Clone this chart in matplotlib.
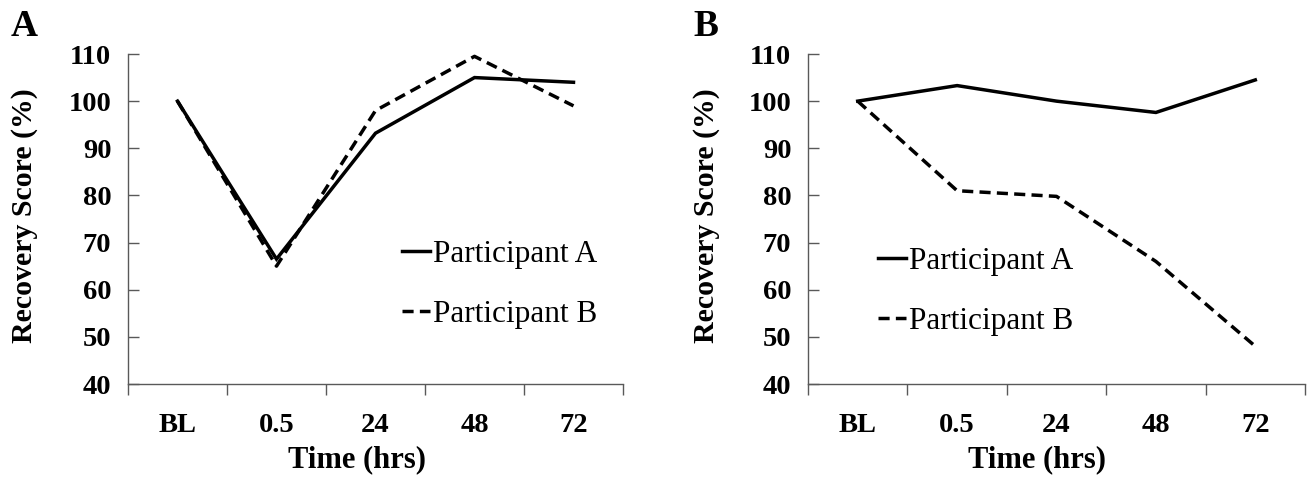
import matplotlib.pyplot as plt

times = ['BL', '0.5', '24', '48', '72']

# panel A
a_part_a = [100, 66.5, 93.2, 105, 104]
a_part_b = [100, 65, 98, 109.5, 99]
# panel B
b_part_a = [100, 103.3, 100, 97.6, 104.5]
b_part_b = [100, 81, 79.8, 66, 48]

plt.rcParams['font.family'] = ['Liberation Serif', 'DejaVu Serif']
axis_col = '#595959'

fig = plt.figure(figsize=(13.11, 4.78), dpi=100)
W, H = 1311, 478


def make_panel(left_px, right_px, ya, yb, letter, ylab_x, leg_xy):
    ax = fig.add_axes([left_px / W, 1 - 384 / H, (right_px - left_px) / W, (384 - 54) / H])
    x = [i + 0.5 for i in range(len(times))]
    ax.plot(x, ya, color='black', lw=2.5, solid_joinstyle='miter', label='Participant A')
    ax.plot(x, yb, color='black', lw=2.5, ls=(0, (3.2, 1.8)), label='Participant B')
    ax.set_xlim(0, len(times))
    ax.set_ylim(40, 110)
    ax.set_yticks(range(40, 111, 10))
    ax.set_xticks(range(len(times) + 1))
    ax.set_xticklabels([])
    ax.set_xticks(x, minor=True)
    ax.set_xticklabels(times, minor=True)
    ax.tick_params(axis='x', which='major', direction='out', length=8, width=1, color=axis_col)
    ax.tick_params(axis='x', which='minor', length=0, pad=21, labelsize=20.5)
    ax.tick_params(axis='y', direction='in', length=8, width=1, color=axis_col, pad=12, labelsize=20.5)
    for lab in ax.get_xticklabels(minor=True) + ax.get_yticklabels():
        lab.set_fontweight('bold')
    for s in ['top', 'right']:
        ax.spines[s].set_visible(False)
    for s in ['left', 'bottom']:
        ax.spines[s].set_color(axis_col)
        ax.spines[s].set_linewidth(1)
    # x label sits a bit left of the axis centre in the original
    fig.text((left_px + right_px) / 2 / W - 19 / W, 1 - 467 / H, 'Time (hrs)', fontsize=22,
             fontweight='bold', ha='center', va='baseline')
    fig.text(ylab_x / W, 1 - 216 / H, 'Recovery Score (%)', rotation=90, fontsize=21.5,
             fontweight='bold', ha='center', va='center')
    fig.text(letter[1] / W, 1 - 9 / H, letter[0], fontsize=27, fontweight='bold', ha='left', va='top')
    ax.legend(loc='upper left', bbox_to_anchor=(leg_xy[0] / W, 1 - leg_xy[1] / H),
              bbox_transform=fig.transFigure, frameon=False, fontsize=22.5,
              handlelength=0.9, handletextpad=0.1, labelspacing=1.0, borderpad=0, borderaxespad=0)
    return ax


make_panel(128, 623, a_part_a, a_part_b, ('A', 11), 25, (402, 240))
make_panel(808, 1305, b_part_a, b_part_b, ('B', 693), 706, (878, 247))

fig.savefig('out.png', dpi=100)
